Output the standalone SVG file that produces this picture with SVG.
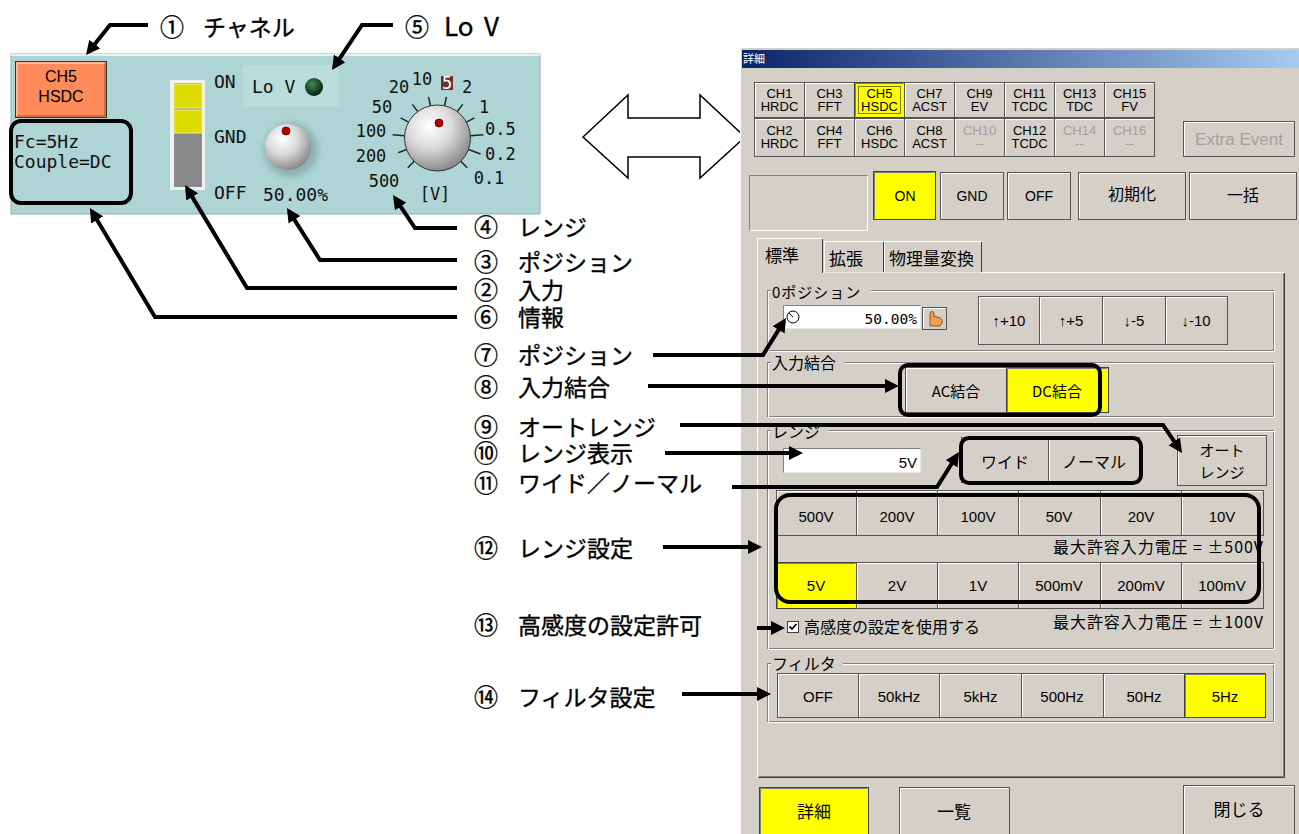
<svg xmlns="http://www.w3.org/2000/svg" width="1299" height="834" viewBox="0 0 1299 834">
<defs>
<style>
.ann{font-family:"Noto Sans CJK JP","Liberation Sans",sans-serif;font-size:23px;fill:#000;stroke:#000;stroke-width:0.35px}
.cn{font-size:24px}
.mono{font-family:"DejaVu Sans Mono","Liberation Mono",monospace;font-size:18px;fill:#111}
.dial{font-family:"DejaVu Sans Mono","Liberation Mono",monospace;font-size:17px;fill:#111}
.ui{font-family:"Liberation Sans","Noto Sans CJK JP",sans-serif;font-size:14px;fill:#000;text-anchor:middle}
.ch{font-family:"Liberation Sans",sans-serif;font-size:13px;fill:#000;text-anchor:middle}
.dis{fill:#A0A0A0}
.jp{font-family:"Noto Sans CJK JP","Liberation Sans",sans-serif;font-size:16px;fill:#000}
.mid{text-anchor:middle}
.end{text-anchor:end}
.btn{fill:#D4D0C8;stroke:#555;stroke-width:1}
.ybtn{fill:#FFFF00;stroke:#404040;stroke-width:1}
.hl{fill:none;stroke:#fff;stroke-width:1}
.sh{fill:none;stroke:#808080;stroke-width:1}
.grp{fill:none;stroke:#808080;stroke-width:1}
.grpw{fill:none;stroke:#fff;stroke-width:1}
.lbg{fill:#D4D0C8}
.conn{fill:none;stroke:#000;stroke-width:4;stroke-linejoin:miter}
.hbox{fill:none;stroke:#000;stroke-width:4}
.tick{stroke:#222;stroke-width:1.5}
</style>
<marker id="ah" viewBox="0 0 14 14" refX="10" refY="7" markerWidth="14" markerHeight="14" markerUnits="userSpaceOnUse" orient="auto">
<path d="M0,0 L14,7 L0,14 z" fill="#000"/>
</marker>
<linearGradient id="title" x1="0" y1="0" x2="1" y2="0">
<stop offset="0" stop-color="#0A246A"/>
<stop offset="1" stop-color="#A6CAF0"/>
</linearGradient>
<radialGradient id="knob" cx="0.38" cy="0.32" r="0.75">
<stop offset="0" stop-color="#FFFFFF"/>
<stop offset="0.45" stop-color="#DADADA"/>
<stop offset="1" stop-color="#7E7E7E"/>
</radialGradient>
<radialGradient id="led" cx="0.4" cy="0.35" r="0.7">
<stop offset="0" stop-color="#3F8A55"/>
<stop offset="1" stop-color="#041A0A"/>
</radialGradient>
<filter id="blur" x="-50%" y="-50%" width="200%" height="200%"><feGaussianBlur stdDeviation="3"/></filter>
</defs>

<rect x="0" y="0" width="1299" height="834" fill="#fff"/>

<!-- LEFT PANEL -->
<g id="left-panel">
<rect x="11" y="54" width="529" height="160" fill="#AED4D6" stroke="#8FB3B5"/>
<line x1="11" y1="55" x2="540" y2="55" stroke="#E4F2F2" stroke-width="2"/>
<g id="ch5-button">
<rect x="15.5" y="61.5" width="91" height="56" fill="#FF8A5A" stroke="#333"/>
<path d="M17,116 V63 H105" fill="none" stroke="#FFC4A8" stroke-width="1.5"/>
<path d="M17,116 H105 V63" fill="none" stroke="#A0522D" stroke-width="1"/>
<text class="ch" x="61" y="82" style="font-size:16px">CH5</text>
<text class="ch" x="61" y="102" style="font-size:16px">HSDC</text>
</g>
<g id="info">
<text class="mono" x="14" y="148">Fc=5Hz</text>
<text class="mono" x="14" y="168">Couple=DC</text>
</g>
<g id="input-switch">
<rect x="170" y="80" width="35" height="110" fill="#F2F2F2"/>
<rect x="174" y="83" width="28" height="104" fill="#8A8A8A"/>
<rect x="174" y="84" width="28" height="24" fill="#DCDC00" stroke="#F0F080" stroke-width="1"/>
<rect x="174" y="110" width="28" height="23" fill="#DCDC00" stroke="#F0F080" stroke-width="1"/>
<text class="mono" x="214" y="88">ON</text>
<text class="mono" x="214" y="143">GND</text>
<text class="mono" x="214" y="199">OFF</text>
</g>
<g id="lov">
<rect x="243" y="65" width="96" height="42" fill="#B9DDDB"/>
<text class="mono" x="252" y="93">Lo V</text>
<circle cx="314" cy="87" r="9" fill="url(#led)"/>
</g>
<g id="position-knob">
<circle cx="291" cy="150" r="27" fill="#8FB0B2" filter="url(#blur)"/>
<circle cx="288" cy="147" r="23" fill="url(#knob)"/>
<circle cx="286" cy="131" r="4" fill="#B00000" stroke="#500" stroke-width="0.8"/>
<text class="mono" x="263" y="201">50.00%</text>
</g>
<g id="range-knob">
<g class="tick">
<line x1="437.5" y1="105" x2="437.5" y2="96" transform="rotate(-135 437.5 138)"/>
<line x1="437.5" y1="105" x2="437.5" y2="96" transform="rotate(-110.45 437.5 138)"/>
<line x1="437.5" y1="105" x2="437.5" y2="93" transform="rotate(-85.9 437.5 138)"/>
<line x1="437.5" y1="105" x2="437.5" y2="96" transform="rotate(-61.4 437.5 138)"/>
<line x1="437.5" y1="105" x2="437.5" y2="96" transform="rotate(-36.8 437.5 138)"/>
<line x1="437.5" y1="105" x2="437.5" y2="96" transform="rotate(-12.3 437.5 138)"/>
<line x1="437.5" y1="105" x2="437.5" y2="96" transform="rotate(12.3 437.5 138)"/>
<line x1="437.5" y1="105" x2="437.5" y2="96" transform="rotate(36.8 437.5 138)"/>
<line x1="437.5" y1="105" x2="437.5" y2="96" transform="rotate(61.4 437.5 138)"/>
<line x1="437.5" y1="105" x2="437.5" y2="92" transform="rotate(85.9 437.5 138)"/>
<line x1="437.5" y1="105" x2="437.5" y2="92" transform="rotate(110.45 437.5 138)"/>
<line x1="437.5" y1="105" x2="437.5" y2="96" transform="rotate(135 437.5 138)"/>
</g>
<circle cx="437.5" cy="138" r="33" fill="url(#knob)" stroke="#333" stroke-width="1"/>
<circle cx="439" cy="123" r="4" fill="#B00000" stroke="#500" stroke-width="0.8"/>
<text class="dial mid" x="399" y="93">20</text>
<text class="dial mid" x="422" y="85">10</text>
<rect x="441" y="76" width="12" height="14" fill="#6B3030"/>
<text class="dial mid" x="447" y="89" style="fill:#fff">5</text>
<text class="dial mid" x="467" y="93">2</text>
<text class="dial mid" x="484" y="113">1</text>
<text class="dial" x="485" y="135">0.5</text>
<text class="dial" x="485" y="160">0.2</text>
<text class="dial mid" x="489" y="184">0.1</text>
<text class="dial mid" x="382" y="113">50</text>
<text class="dial mid" x="371" y="137">100</text>
<text class="dial mid" x="371" y="162">200</text>
<text class="dial mid" x="384" y="187">500</text>
<text class="dial mid" x="435" y="200">[V]</text>
</g>
</g>

<!-- DOUBLE ARROW -->
<g id="double-arrow">
<polygon points="583,137 628,95 628,118 700,118 700,95 745,137 700,178 700,157 628,157 628,178" fill="#fff" stroke="#000" stroke-width="1.5" stroke-linejoin="miter"/>
</g>

<!-- DIALOG -->
<g id="dialog">
<rect x="740" y="47" width="559" height="787" fill="#D4D0C8"/>
<path d="M740.5,834 V47.5 H1299" fill="none" stroke="#fff"/>
<rect x="742" y="50" width="557" height="18" fill="url(#title)"/>
<text x="743" y="63" style="font-family:'Noto Sans CJK JP',sans-serif;font-size:11px;fill:#fff">詳細</text>

<g id="channel-buttons">
<rect class="btn" x="754.5" y="82.5" width="50" height="35"/><path class="hl" d="M755.5,116.5V83.5H803.5"/>
<rect class="btn" x="804.5" y="82.5" width="50" height="35"/><path class="hl" d="M805.5,116.5V83.5H853.5"/>
<rect class="ybtn" x="854.5" y="82.5" width="50" height="35"/><path class="sh" d="M855.5,116.5V83.5H903.5"/>
<rect x="858.5" y="86.5" width="42" height="27" fill="none" stroke="#000" stroke-dasharray="1,1"/>
<rect class="btn" x="904.5" y="82.5" width="50" height="35"/><path class="hl" d="M905.5,116.5V83.5H953.5"/>
<rect class="btn" x="954.5" y="82.5" width="50" height="35"/><path class="hl" d="M955.5,116.5V83.5H1003.5"/>
<rect class="btn" x="1004.5" y="82.5" width="50" height="35"/><path class="hl" d="M1005.5,116.5V83.5H1053.5"/>
<rect class="btn" x="1054.5" y="82.5" width="50" height="35"/><path class="hl" d="M1055.5,116.5V83.5H1103.5"/>
<rect class="btn" x="1104.5" y="82.5" width="50" height="35"/><path class="hl" d="M1105.5,116.5V83.5H1153.5"/>
<rect class="btn" x="754.5" y="118.5" width="50" height="38"/><path class="hl" d="M755.5,155.5V119.5H803.5"/>
<rect class="btn" x="804.5" y="118.5" width="50" height="38"/><path class="hl" d="M805.5,155.5V119.5H853.5"/>
<rect class="btn" x="854.5" y="118.5" width="50" height="38"/><path class="hl" d="M855.5,155.5V119.5H903.5"/>
<rect class="btn" x="904.5" y="118.5" width="50" height="38"/><path class="hl" d="M905.5,155.5V119.5H953.5"/>
<rect class="btn" x="954.5" y="118.5" width="50" height="38"/><path class="hl" d="M955.5,155.5V119.5H1003.5"/>
<rect class="btn" x="1004.5" y="118.5" width="50" height="38"/><path class="hl" d="M1005.5,155.5V119.5H1053.5"/>
<rect class="btn" x="1054.5" y="118.5" width="50" height="38"/><path class="hl" d="M1055.5,155.5V119.5H1103.5"/>
<rect class="btn" x="1104.5" y="118.5" width="50" height="38"/><path class="hl" d="M1105.5,155.5V119.5H1153.5"/>
<text class="ch" x="779.5" y="98">CH1</text><text class="ch" x="779.5" y="111">HRDC</text>
<text class="ch" x="829.5" y="98">CH3</text><text class="ch" x="829.5" y="111">FFT</text>
<text class="ch" x="879.5" y="98">CH5</text><text class="ch" x="879.5" y="111">HSDC</text>
<text class="ch" x="929.5" y="98">CH7</text><text class="ch" x="929.5" y="111">ACST</text>
<text class="ch" x="979.5" y="98">CH9</text><text class="ch" x="979.5" y="111">EV</text>
<text class="ch" x="1029.5" y="98">CH11</text><text class="ch" x="1029.5" y="111">TCDC</text>
<text class="ch" x="1079.5" y="98">CH13</text><text class="ch" x="1079.5" y="111">TDC</text>
<text class="ch" x="1129.5" y="98">CH15</text><text class="ch" x="1129.5" y="111">FV</text>
<text class="ch" x="779.5" y="135">CH2</text><text class="ch" x="779.5" y="148">HRDC</text>
<text class="ch" x="829.5" y="135">CH4</text><text class="ch" x="829.5" y="148">FFT</text>
<text class="ch" x="879.5" y="135">CH6</text><text class="ch" x="879.5" y="148">HSDC</text>
<text class="ch" x="929.5" y="135">CH8</text><text class="ch" x="929.5" y="148">ACST</text>
<text class="ch dis" x="979.5" y="135">CH10</text><text class="ch dis" x="979.5" y="148">--</text>
<text class="ch" x="1029.5" y="135">CH12</text><text class="ch" x="1029.5" y="148">TCDC</text>
<text class="ch dis" x="1079.5" y="135">CH14</text><text class="ch dis" x="1079.5" y="148">--</text>
<text class="ch dis" x="1129.5" y="135">CH16</text><text class="ch dis" x="1129.5" y="148">--</text>
</g>

<g id="extra-event">
<rect class="btn" x="1183.5" y="121.5" width="111" height="35"/><path class="hl" d="M1184.5,155.5V122.5H1293.5"/>
<text class="ch dis" x="1239" y="145" style="font-size:17px">Extra Event</text>
</g>

<g id="mode-row">
<rect x="749.5" y="175.5" width="118" height="55" fill="#D4D0C8"/>
<path d="M749.5,230.5V175.5H867.5" fill="none" stroke="#808080"/>
<path d="M750,230.5H867.5V176" fill="none" stroke="#fff"/>
<rect class="ybtn" x="873.5" y="171.5" width="62" height="48"/><path class="sh" d="M874.5,218.5V172.5H934.5"/>
<text class="ui" x="905" y="201">ON</text>
<rect class="btn" x="940.5" y="172.5" width="63" height="47"/><path class="hl" d="M941.5,218.5V173.5H1002.5"/>
<text class="ui" x="972" y="201">GND</text>
<rect class="btn" x="1007.5" y="172.5" width="63" height="47"/><path class="hl" d="M1008.5,218.5V173.5H1069.5"/>
<text class="ui" x="1039" y="201">OFF</text>
<rect class="btn" x="1078.5" y="172.5" width="107" height="47"/><path class="hl" d="M1079.5,218.5V173.5H1184.5"/>
<text class="jp mid" x="1132" y="200">初期化</text>
<rect class="btn" x="1189.5" y="172.5" width="107" height="47"/><path class="hl" d="M1190.5,218.5V173.5H1295.5"/>
<text class="jp mid" x="1243" y="201">一括</text>
</g>

<g id="tabs">
<rect x="757.5" y="272.5" width="527" height="505" fill="#D4D0C8"/>
<path d="M757.5,777.5V272.5H1284.5" fill="none" stroke="#fff"/>
<path d="M758,777.5H1284.5V273" fill="none" stroke="#404040"/>
<path d="M759,776.5H1283.5V274" fill="none" stroke="#808080"/>
<rect x="824.5" y="241.5" width="59" height="31" fill="#D4D0C8"/>
<path d="M824.5,272V241.5H883.5" fill="none" stroke="#fff"/><path d="M883.5,242V272" stroke="#404040"/>
<rect x="884.5" y="241.5" width="97" height="31" fill="#D4D0C8"/>
<path d="M884.5,272V241.5H981.5" fill="none" stroke="#fff"/><path d="M981.5,242V272" stroke="#404040"/>
<rect x="758" y="238.5" width="65" height="36" fill="#D4D0C8"/>
<path d="M757.5,273V238.5H822.5" fill="none" stroke="#fff"/><path d="M822.5,239V273" stroke="#404040"/>
<text class="jp" x="765" y="262" style="font-size:17px">標準</text>
<text class="jp" x="829" y="265" style="font-size:17px">拡張</text>
<text class="jp" x="889" y="265" style="font-size:17px">物理量変換</text>
</g>

<g id="zero-position">
<rect class="grp" x="767.5" y="290.5" width="506" height="60"/>
<rect class="grpw" x="768.5" y="291.5" width="506" height="60"/>
<rect class="lbg" x="771" y="282" width="100" height="14"/>
<text class="jp" x="772" y="298" style="font-size:15px;letter-spacing:1px">0ポジション</text>
<rect x="783.5" y="305.5" width="137" height="23" fill="#fff"/>
<path d="M783.5,328.5V305.5H920.5" fill="none" stroke="#808080"/>
<circle cx="793" cy="317" r="6" fill="#fff" stroke="#000"/>
<line x1="793" y1="317" x2="789" y2="313" stroke="#000"/>
<text class="end" x="917" y="324" style="font-family:'DejaVu Sans Mono',monospace;font-size:14.5px">50.00%</text>
<rect class="btn" x="922.5" y="307.5" width="24" height="22"/><path class="hl" d="M923.5,328.5V308.5H945.5"/>
<path d="M930,326 V314 Q930,311.5 932,311.5 Q934,311.5 934,314 V317 Q936,316 938,317.5 Q940,317 941.5,319 Q943,320 942,323 L940,326 Z" fill="#F4A050" stroke="#7A3A10" stroke-width="0.8"/>
<rect class="btn" x="978.5" y="296.5" width="61" height="48"/><path class="hl" d="M979.5,343.5V297.5H1038.5"/>
<rect class="btn" x="1039.5" y="296.5" width="63" height="48"/><path class="hl" d="M1040.5,343.5V297.5H1101.5"/>
<rect class="btn" x="1102.5" y="296.5" width="63" height="48"/><path class="hl" d="M1103.5,343.5V297.5H1164.5"/>
<rect class="btn" x="1165.5" y="296.5" width="62" height="48"/><path class="hl" d="M1166.5,343.5V297.5H1226.5"/>
<text class="ui" x="1009" y="326" style="font-size:15px">↑+10</text>
<text class="ui" x="1071" y="326" style="font-size:15px">↑+5</text>
<text class="ui" x="1134" y="326" style="font-size:15px">↓-5</text>
<text class="ui" x="1196" y="326" style="font-size:15px">↓-10</text>
</g>

<g id="input-coupling">
<rect class="grp" x="767.5" y="362.5" width="506" height="54"/>
<rect class="grpw" x="768.5" y="363.5" width="506" height="54"/>
<rect class="lbg" x="771" y="354" width="74" height="14"/>
<text class="jp" x="772" y="369" style="font-size:16px">入力結合</text>
<rect class="btn" x="905.5" y="367.5" width="101" height="45"/><path class="hl" d="M906.5,411.5V368.5H1005.5"/>
<text class="jp mid" x="956" y="397" style="font-size:15px">AC結合</text>
<rect class="ybtn" x="1006.5" y="367.5" width="102" height="45"/><path class="sh" d="M1007.5,411.5V368.5H1107.5"/>
<text class="jp mid" x="1057" y="397" style="font-size:15px">DC結合</text>
</g>

<g id="range">
<rect class="grp" x="767.5" y="430.5" width="506" height="218"/>
<rect class="grpw" x="768.5" y="431.5" width="506" height="218"/>
<rect class="lbg" x="771" y="423" width="58" height="14"/>
<text class="jp" x="772" y="438" style="font-size:16px">レンジ</text>
<rect x="783.5" y="448.5" width="137" height="24" fill="#fff"/>
<path d="M783.5,472.5V448.5H920.5" fill="none" stroke="#808080"/>
<text class="end" x="917" y="468" style="font-family:'Liberation Sans',sans-serif;font-size:15px">5V</text>
<rect class="btn" x="961.5" y="437.5" width="87" height="45"/><path class="hl" d="M962.5,481.5V438.5H1047.5"/>
<rect class="btn" x="1048.5" y="437.5" width="91" height="45"/><path class="hl" d="M1049.5,481.5V438.5H1138.5"/>
<text class="jp mid" x="1005" y="468">ワイド</text>
<text class="jp mid" x="1094" y="468">ノーマル</text>
<rect class="btn" x="1177.5" y="435.5" width="89" height="50"/><path class="hl" d="M1178.5,484.5V436.5H1265.5"/>
<text class="jp mid" x="1222" y="456" style="font-size:15px">オート</text>
<text class="jp mid" x="1222" y="478" style="font-size:15px">レンジ</text>

<rect class="btn" x="776.5" y="490.5" width="80" height="45"/><path class="hl" d="M777.5,534.5V491.5H855.5"/>
<rect class="btn" x="856.5" y="490.5" width="81" height="45"/><path class="hl" d="M857.5,534.5V491.5H936.5"/>
<rect class="btn" x="937.5" y="490.5" width="81" height="45"/><path class="hl" d="M938.5,534.5V491.5H1017.5"/>
<rect class="btn" x="1018.5" y="490.5" width="82" height="45"/><path class="hl" d="M1019.5,534.5V491.5H1099.5"/>
<rect class="btn" x="1100.5" y="490.5" width="81" height="45"/><path class="hl" d="M1101.5,534.5V491.5H1180.5"/>
<rect class="btn" x="1181.5" y="490.5" width="82" height="45"/><path class="hl" d="M1182.5,534.5V491.5H1262.5"/>
<text class="ui" x="816" y="522" style="font-size:15px">500V</text>
<text class="ui" x="897" y="522" style="font-size:15px">200V</text>
<text class="ui" x="978" y="522" style="font-size:15px">100V</text>
<text class="ui" x="1059" y="522" style="font-size:15px">50V</text>
<text class="ui" x="1141" y="522" style="font-size:15px">20V</text>
<text class="ui" x="1222" y="522" style="font-size:15px">10V</text>
<text class="jp end" x="1263" y="553" textLength="210" lengthAdjust="spacing">最大許容入力電圧 = ±500V</text>

<rect class="ybtn" x="776.5" y="562.5" width="80" height="46"/><path class="sh" d="M777.5,607.5V563.5H855.5"/>
<rect class="btn" x="856.5" y="562.5" width="81" height="46"/><path class="hl" d="M857.5,607.5V563.5H936.5"/>
<rect class="btn" x="937.5" y="562.5" width="81" height="46"/><path class="hl" d="M938.5,607.5V563.5H1017.5"/>
<rect class="btn" x="1018.5" y="562.5" width="82" height="46"/><path class="hl" d="M1019.5,607.5V563.5H1099.5"/>
<rect class="btn" x="1100.5" y="562.5" width="81" height="46"/><path class="hl" d="M1101.5,607.5V563.5H1180.5"/>
<rect class="btn" x="1181.5" y="562.5" width="82" height="46"/><path class="hl" d="M1182.5,607.5V563.5H1262.5"/>
<text class="ui" x="816" y="591" style="font-size:15px">5V</text>
<text class="ui" x="897" y="591" style="font-size:15px">2V</text>
<text class="ui" x="978" y="591" style="font-size:15px">1V</text>
<text class="ui" x="1059" y="591" style="font-size:15px">500mV</text>
<text class="ui" x="1141" y="591" style="font-size:15px">200mV</text>
<text class="ui" x="1222" y="591" style="font-size:15px">100mV</text>

<rect x="787.5" y="621.5" width="11" height="11" fill="#fff" stroke="#404040"/>
<path d="M789.5,626.5 l2.5,2.5 l4.5,-5" fill="none" stroke="#000" stroke-width="1.8"/>
<text class="jp" x="804" y="633">高感度の設定を使用する</text>
<text class="jp end" x="1263" y="628" textLength="210" lengthAdjust="spacing">最大許容入力電圧 = ±100V</text>
</g>

<g id="filter">
<rect class="grp" x="767.5" y="663.5" width="506" height="58"/>
<rect class="grpw" x="768.5" y="664.5" width="506" height="58"/>
<rect class="lbg" x="771" y="655" width="72" height="14"/>
<text class="jp" x="772" y="670" style="font-size:16px">フィルタ</text>
<rect class="btn" x="777.5" y="673.5" width="81" height="44"/><path class="hl" d="M778.5,716.5V674.5H857.5"/>
<rect class="btn" x="858.5" y="673.5" width="81" height="44"/><path class="hl" d="M859.5,716.5V674.5H938.5"/>
<rect class="btn" x="939.5" y="673.5" width="82" height="44"/><path class="hl" d="M940.5,716.5V674.5H1020.5"/>
<rect class="btn" x="1021.5" y="673.5" width="82" height="44"/><path class="hl" d="M1022.5,716.5V674.5H1102.5"/>
<rect class="btn" x="1103.5" y="673.5" width="81" height="44"/><path class="hl" d="M1104.5,716.5V674.5H1183.5"/>
<rect class="ybtn" x="1184.5" y="673.5" width="81" height="44"/><path class="sh" d="M1185.5,716.5V674.5H1264.5"/>
<text class="ui" x="818" y="702" style="font-size:15px">OFF</text>
<text class="ui" x="899" y="702" style="font-size:15px">50kHz</text>
<text class="ui" x="980.5" y="702" style="font-size:15px">5kHz</text>
<text class="ui" x="1062" y="702" style="font-size:15px">500Hz</text>
<text class="ui" x="1144" y="702" style="font-size:15px">50Hz</text>
<text class="ui" x="1225" y="702" style="font-size:15px">5Hz</text>
</g>

<g id="bottom-buttons">
<rect class="ybtn" x="759.5" y="787.5" width="109" height="50"/><path class="sh" d="M760.5,834V788.5H867.5"/>
<text class="jp mid" x="814" y="818" style="font-size:17px">詳細</text>
<rect class="btn" x="899.5" y="787.5" width="110" height="50"/><path class="hl" d="M900.5,834V788.5H1008.5"/>
<text class="jp mid" x="954" y="818" style="font-size:17px">一覧</text>
<rect class="btn" x="1183.5" y="785.5" width="111" height="52"/><path class="hl" d="M1184.5,834V786.5H1293.5"/>
<text class="jp mid" x="1239" y="816" style="font-size:17px">閉じる</text>
</g>
</g>

<!-- HIGHLIGHT BOXES -->
<g id="highlights">
<rect class="hbox" x="11" y="121" width="120" height="82" rx="10"/>
<rect class="hbox" x="900" y="365" width="200" height="50" rx="8"/>
<rect class="hbox" x="961" y="438" width="180" height="45" rx="8"/>
<rect class="hbox" x="776" y="495" width="483" height="107" rx="14"/>
</g>

<!-- CONNECTORS -->
<g id="connectors">
<polyline class="conn" points="148,25 110,25 88.5,51.9" marker-end="url(#ah)"/>
<polyline class="conn" points="393,25 362,25 334.2,66.7" marker-end="url(#ah)"/>
<polyline class="conn" points="457,228 415,228 395.2,198.3" marker-end="url(#ah)"/>
<polyline class="conn" points="457,260 320,260 289.1,211.4" marker-end="url(#ah)"/>
<polyline class="conn" points="457,288 247,288 187.1,188.4" marker-end="url(#ah)"/>
<polyline class="conn" points="457,317 155,317 92,211.4" marker-end="url(#ah)"/>
<polyline class="conn" points="653,355 763,355 783.9,321.4" marker-end="url(#ah)"/>
<polyline class="conn" points="648,386 895,386" marker-end="url(#ah)"/>
<polyline class="conn" points="680,425 1163,425 1179.8,449.7" marker-end="url(#ah)"/>
<polyline class="conn" points="665,453 799,453" marker-end="url(#ah)"/>
<polyline class="conn" points="732,487 937,487 956.9,455.4" marker-end="url(#ah)"/>
<polyline class="conn" points="663,547 758,547" marker-end="url(#ah)"/>
<polyline class="conn" points="757,628 781,628" marker-end="url(#ah)"/>
<polyline class="conn" points="682,694 767,694" marker-end="url(#ah)"/>
</g>

<!-- LABELS -->
<g id="labels">
<text class="ann" y="36"><tspan class="cn" x="160">① </tspan><tspan x="203">チャネル</tspan></text>
<text class="ann" y="36"><tspan class="cn" x="405">⑤ </tspan><tspan x="444" style="font-size:26px">Lo </tspan><tspan x="484" style="font-size:26px">V</tspan></text>
<text class="ann" y="236"><tspan class="cn" x="474">④ </tspan><tspan x="518">レンジ</tspan></text>
<text class="ann" y="271"><tspan class="cn" x="474">③ </tspan><tspan x="518">ポジション</tspan></text>
<text class="ann" y="299"><tspan class="cn" x="474">② </tspan><tspan x="518">入力</tspan></text>
<text class="ann" y="326"><tspan class="cn" x="474">⑥ </tspan><tspan x="518">情報</tspan></text>
<text class="ann" y="364"><tspan class="cn" x="474">⑦ </tspan><tspan x="518">ポジション</tspan></text>
<text class="ann" y="396"><tspan class="cn" x="474">⑧ </tspan><tspan x="518">入力結合</tspan></text>
<text class="ann" y="436"><tspan class="cn" x="474">⑨ </tspan><tspan x="518">オートレンジ</tspan></text>
<text class="ann" y="462"><tspan class="cn" x="474">⑩ </tspan><tspan x="518">レンジ表示</tspan></text>
<text class="ann" y="492"><tspan class="cn" x="474">⑪ </tspan><tspan x="518">ワイド／ノーマル</tspan></text>
<text class="ann" y="557"><tspan class="cn" x="474">⑫ </tspan><tspan x="518">レンジ設定</tspan></text>
<text class="ann" y="634"><tspan class="cn" x="474">⑬ </tspan><tspan x="518">高感度の設定許可</tspan></text>
<text class="ann" y="706"><tspan class="cn" x="474">⑭ </tspan><tspan x="518">フィルタ設定</tspan></text>
</g>
</svg>
